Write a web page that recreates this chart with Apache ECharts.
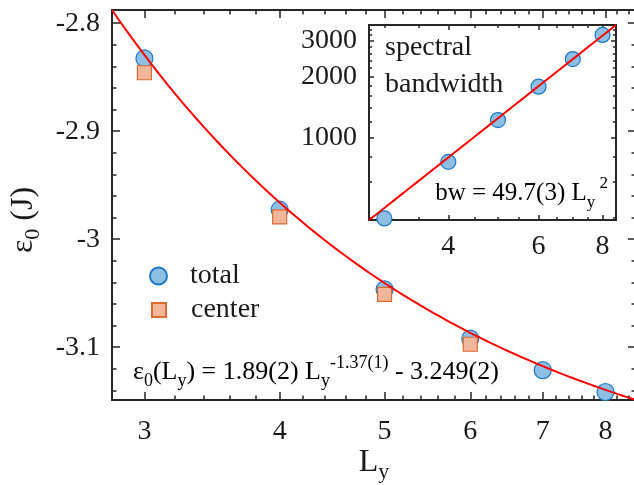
<!DOCTYPE html>
<html>
<head>
<meta charset="utf-8">
<script src="https://cdn.jsdelivr.net/npm/echarts@6/dist/echarts.min.js"></script>
<style>
  html, body { margin: 0; padding: 0; background: #ffffff; }
  #chart { width: 634px; height: 485px; }
</style>
</head>
<body>
<div id="chart"></div>
<script>
// ---- data -------------------------------------------------------------
// cylinder width L_y (shared by main panel and inset)
const sizes = [3, 4, 5, 6, 7, 8];
// ground-state energy per site, whole cylinder and central columns only
const e0Total  = [-2.8326, -2.9727, -3.0465, -3.0921, -3.1213, -3.1415];
const e0Center = [-2.8459, -2.9794, -3.0511, -3.0973];
// spectral bandwidth (inset)
const bandwidth = [397, 756, 1217, 1779, 2437, 3206];
// fit coefficients quoted in the annotations
const e0FitCoef = [1.89, -1.37, -3.249];   // a * L^b + c
const bwFitCoef = [49.7, 2];               // a * L^b

// ---- axis ranges and tick values ---------------------------------------
const xRange      = [2.8, 8.536];
const insetXRange = [2.8, 8.5];
const e0Range     = [-3.1489, -2.7878];
const bwRange     = [390, 3590];
const xMajor      = [3, 4, 5, 6, 7, 8];
const xMinor      = [3.2, 3.4, 3.6, 3.8, 4.2, 4.4, 4.6, 4.8, 5.2, 5.4, 5.6, 5.8,
                     6.2, 6.4, 6.6, 6.8, 7.2, 7.4, 7.6, 7.8, 8.2, 8.4];
const e0Major     = [-3.1, -3, -2.9, -2.8];
const e0Minor     = [-3.14, -3.12, -3.08, -3.06, -3.04, -3.02, -2.98, -2.96,
                     -2.94, -2.92, -2.88, -2.86, -2.84, -2.82];
const insetXMajor = [4, 6, 8];
const insetXMinor = [3, 3.5, 4.5, 5, 5.5, 6.5, 7, 7.5];
const bwMajor     = [1000, 2000, 3000];
const bwMinor     = [400, 600, 800, 1200, 1400, 1600, 1800, 2200, 2400, 2600,
                     2800, 3200, 3400];

// ---- styling ------------------------------------------------------------
const FONT = 'Liberation Serif';
const INK = '#262626';
const TXT = '#1a1a1a';
const BLUE_FILL = '#8dbfe3', BLUE_EDGE = '#1f7ac6';
const ORANGE_FILL = '#f2b69b', ORANGE_EDGE = '#dc6a30';

// fit curves evaluated from the quoted coefficients
function sampleRange(r) {
  const out = [];
  for (let i = 0; r[0] + i * 0.05 <= r[1] + 1e-9; i++) out.push(+(r[0] + i * 0.05).toFixed(2));
  out.push(r[1]);
  return out;
}
const e0FitCurve = sampleRange(xRange).map(L => [L, e0FitCoef[0] * Math.pow(L, e0FitCoef[1]) + e0FitCoef[2]]);
const bwFitCurve = sampleRange(insetXRange).map(L => [L, bwFitCoef[0] * Math.pow(L, bwFitCoef[1])]);

const zip = (xs, ys) => ys.map((y, i) => [xs[i], y]);

// one axis per tick family (major/minor, each side) so every side of the
// box gets inward ticks of its own length
function tickAxis(o) {
  const ax = {
    type: o.type,
    gridIndex: o.grid,
    position: o.pos,
    min: o.range[0],
    max: o.range[1],
    axisLine: { show: false, onZero: false },
    axisTick: {
      show: true, inside: true, length: o.len, customValues: o.ticks,
      lineStyle: { color: INK, width: 1.5 }
    },
    axisLabel: { show: false },
    splitLine: { show: false },
    minorTick: { show: false },
    minorSplitLine: { show: false }
  };
  if (o.label) {
    ax.axisLabel = Object.assign({
      show: true, customValues: o.ticks, color: TXT,
      fontFamily: FONT, fontSize: 28
    }, o.label);
  }
  if (o.name) Object.assign(ax, o.name);
  return ax;
}

const numLabel = v => String(+v.toFixed(2));

const xAxes = [
  // main panel
  tickAxis({ type: 'log', grid: 0, pos: 'bottom', range: xRange, ticks: xMajor, len: 8,
    label: { margin: 18, formatter: numLabel },
    name: {
      name: '{a|L}{s|y}', nameLocation: 'middle', nameGap: 43, nameMoveOverlap: false,
      nameTextStyle: { rich: {
        a: { fontFamily: FONT, fontSize: 32, color: TXT, lineHeight: 40, verticalAlign: 'middle' },
        s: { fontFamily: FONT, fontSize: 22, color: TXT, lineHeight: 20, verticalAlign: 'bottom' }
      } }
    } }),
  tickAxis({ type: 'log', grid: 0, pos: 'bottom', range: xRange, ticks: xMinor, len: 4.5 }),
  tickAxis({ type: 'log', grid: 0, pos: 'top', range: xRange, ticks: xMajor, len: 8 }),
  tickAxis({ type: 'log', grid: 0, pos: 'top', range: xRange, ticks: xMinor, len: 4.5 }),
  // inset
  tickAxis({ type: 'log', grid: 1, pos: 'bottom', range: insetXRange, ticks: insetXMajor, len: 5,
    label: { margin: 13, formatter: numLabel } }),
  tickAxis({ type: 'log', grid: 1, pos: 'bottom', range: insetXRange, ticks: insetXMinor, len: 3 }),
  tickAxis({ type: 'log', grid: 1, pos: 'top', range: insetXRange, ticks: insetXMajor, len: 5 }),
  tickAxis({ type: 'log', grid: 1, pos: 'top', range: insetXRange, ticks: insetXMinor, len: 3 })
];

const yAxes = [
  // main panel
  tickAxis({ type: 'value', grid: 0, pos: 'left', range: e0Range, ticks: e0Major, len: 8,
    label: { margin: 12, formatter: numLabel },
    name: {
      name: '{a|ε}{s|0}{a| (J)}', nameLocation: 'middle', nameGap: 68, nameMoveOverlap: false,
      nameTextStyle: {
        padding: [0, 30, 0, 0],
        rich: {
          a: { fontFamily: FONT, fontSize: 32, color: TXT, lineHeight: 40, verticalAlign: 'middle' },
          s: { fontFamily: FONT, fontSize: 22, color: TXT, lineHeight: 20, verticalAlign: 'bottom' }
        }
      }
    } }),
  tickAxis({ type: 'value', grid: 0, pos: 'left', range: e0Range, ticks: e0Minor, len: 4.5 }),
  tickAxis({ type: 'value', grid: 0, pos: 'right', range: e0Range, ticks: e0Major, len: 8 }),
  tickAxis({ type: 'value', grid: 0, pos: 'right', range: e0Range, ticks: e0Minor, len: 4.5 }),
  // inset
  tickAxis({ type: 'log', grid: 1, pos: 'left', range: bwRange, ticks: bwMajor, len: 5,
    label: { margin: 12, formatter: v => String(Math.round(v)) } }),
  tickAxis({ type: 'log', grid: 1, pos: 'left', range: bwRange, ticks: bwMinor, len: 3 }),
  tickAxis({ type: 'log', grid: 1, pos: 'right', range: bwRange, ticks: bwMajor, len: 5 }),
  tickAxis({ type: 'log', grid: 1, pos: 'right', range: bwRange, ticks: bwMinor, len: 3 })
];

function richEq(size) {
  const small = Math.round(size * 0.68);
  return {
    t: { fontFamily: FONT, fontSize: size, color: TXT, lineHeight: 36, verticalAlign: 'middle' },
    s: { fontFamily: FONT, fontSize: small, color: TXT, lineHeight: 16, verticalAlign: 'bottom' },
    p: { fontFamily: FONT, fontSize: small, color: TXT, lineHeight: 16, verticalAlign: 'top' }
  };
}

const option = {
  animation: false,
  backgroundColor: '#ffffff',
  grid: [
    { left: 112, top: 10, width: 524, height: 390, show: true,
      borderColor: INK, borderWidth: 2, backgroundColor: 'transparent',
      containLabel: false, outerBoundsMode: 'none' },
    { left: 369, top: 25, width: 247, height: 195, show: true,
      borderColor: INK, borderWidth: 2, backgroundColor: '#ffffff',
      containLabel: false, outerBoundsMode: 'none' }
  ],
  xAxis: xAxes,
  yAxis: yAxes,
  legend: [
    { data: [{ name: 'total', icon: 'circle' }], left: 149, top: 262, padding: 0,
      itemWidth: 17, itemHeight: 17, selectedMode: false,
      textStyle: { fontFamily: FONT, fontSize: 28, color: TXT, padding: [0, 0, 0, 18] } },
    { data: [{ name: 'center', icon: 'rect' }], left: 151, top: 296, padding: 0,
      itemWidth: 14, itemHeight: 14, selectedMode: false,
      textStyle: { fontFamily: FONT, fontSize: 28, color: TXT, padding: [0, 0, 0, 20] } }
  ],
  graphic: [
    { type: 'text', x: 385, y: 48, z: 100,
      style: { text: 'spectral', fontFamily: FONT, fontSize: 28, fill: TXT, verticalAlign: 'middle' } },
    { type: 'text', x: 385, y: 85, z: 100,
      style: { text: 'bandwidth', fontFamily: FONT, fontSize: 28, fill: TXT, verticalAlign: 'middle' } },
    { type: 'text', x: 608, y: 193, z: 100,
      style: { text: '{t|bw = 49.7(3) L}{s|y}{p| 2}', rich: richEq(25), align: 'right', verticalAlign: 'middle' } },
    { type: 'text', x: 133, y: 372, z: 100,
      style: { text: '{t|ε}{s|0}{t|(L}{s|y}{t|) = 1.89(2) L}{s|y}{p|-1.37(1)}{t| - 3.249(2)}',
        rich: richEq(26), align: 'left', verticalAlign: 'middle' } }
  ],
  series: [
    { name: 'total', type: 'scatter', xAxisIndex: 0, yAxisIndex: 0,
      data: zip(sizes, e0Total), symbol: 'circle', symbolSize: 17, z: 3,
      itemStyle: { color: BLUE_FILL, borderColor: BLUE_EDGE, borderWidth: 1.2, opacity: 1 } },
    { name: 'center', type: 'scatter', xAxisIndex: 0, yAxisIndex: 0,
      data: zip(sizes, e0Center), symbol: 'rect', symbolSize: 14, z: 4,
      itemStyle: { color: ORANGE_FILL, borderColor: ORANGE_EDGE, borderWidth: 1.2, opacity: 1 } },
    { name: 'e0 fit', type: 'line', xAxisIndex: 0, yAxisIndex: 0,
      data: e0FitCurve, showSymbol: false, symbol: 'none', z: 5, clip: true,
      lineStyle: { color: '#ff0000', width: 2 } },
    { name: 'bandwidth', type: 'scatter', xAxisIndex: 4, yAxisIndex: 4,
      data: zip(sizes, bandwidth), symbol: 'circle', symbolSize: 15, z: 3,
      itemStyle: { color: BLUE_FILL, borderColor: BLUE_EDGE, borderWidth: 1.2, opacity: 1 } },
    { name: 'bw fit', type: 'line', xAxisIndex: 4, yAxisIndex: 4,
      data: bwFitCurve, showSymbol: false, symbol: 'none', z: 5, clip: true,
      lineStyle: { color: '#ff0000', width: 2 } }
  ]
};

const chart = echarts.init(document.getElementById('chart'), null, { renderer: 'canvas' });
chart.setOption(option);
</script>
</body>
</html>
